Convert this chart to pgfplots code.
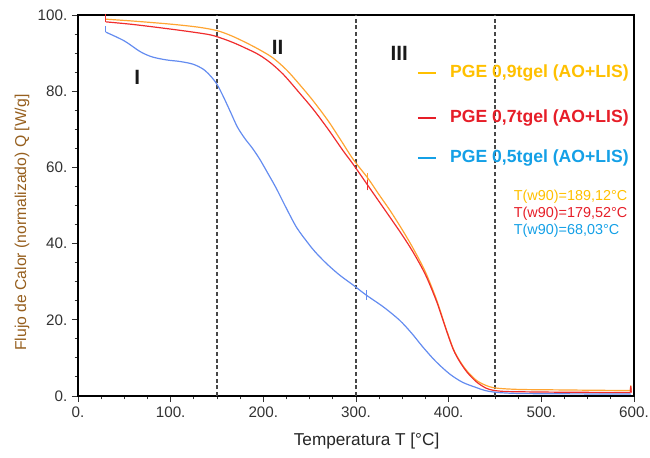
\documentclass[border=0pt]{standalone}
\usepackage{pgfplots}
\pgfplotsset{compat=1.18}
\usepackage{fontspec}
\setmainfont{Liberation Sans}
\definecolor{corange}{RGB}{255,165,50}
\definecolor{cred}{RGB}{240,45,45}
\definecolor{cblue}{RGB}{100,140,240}
\definecolor{lgold}{RGB}{255,192,0}
\definecolor{lred}{RGB}{230,30,40}
\definecolor{lblue}{RGB}{20,160,230}
\definecolor{tickgray}{RGB}{50,50,50}
\definecolor{ylab}{RGB}{150,95,30}
\definecolor{dashgray}{RGB}{70,70,70}
\begin{document}
\begin{tikzpicture}
\begin{axis}[
  scale only axis, width=417pt, height=285.75pt,
  xmin=0, xmax=600, ymin=0, ymax=100,
  xtick={0,100,...,600}, xticklabels={0.,100.,200.,300.,400.,500.,600.},
  ytick={0,20,...,100}, yticklabels={0.,20.,40.,60.,80.,100.},
  minor x tick num=3, minor y tick num=3,
  tick align=outside, xtick pos=bottom, ytick pos=left,
  major tick length=4.5pt, minor tick length=2.5pt,
  tick style={tickgray, line width=0.7pt},
  ticklabel style={font=\fontsize{11.4}{13}\selectfont, text=tickgray},
  /pgf/number format/assume math mode=true,
  axis line style={black, line width=0.8pt},
  xlabel={Temperatura T [°C]},
  ylabel={Flujo de Calor (normalizado) Q [W/g]},
  xlabel style={font=\fontsize{12.9}{15}\selectfont, text=black!85, at={(axis description cs:0.519,-0.118)}, anchor=center},
  ylabel style={font=\fontsize{11.8}{14}\selectfont, text=ylab, at={(axis description cs:-0.1007,0.455)}, anchor=center},
  clip=false,
]
% vertical dashed dividers
\addplot[dashgray, line width=0.8pt, dash pattern=on 3pt off 2pt] coordinates {(150,0) (150,100)};
\addplot[dashgray, line width=0.8pt, dash pattern=on 3pt off 2pt] coordinates {(300,0) (300,100)};
\addplot[dashgray, line width=0.8pt, dash pattern=on 3pt off 2pt] coordinates {(450,0) (450,100)};

% PGE 0,9tgel
\addplot[corange, line width=0.9pt] coordinates {(30,100.2) (30,98.9)};
\addplot[corange, line width=0.9pt, smooth] coordinates {
(30,98.9) (60,98.4) (100,97.6) (130,96.8) (150,95.9) (165,94.6) (180,92.9) (195,91.0) (210,88.8) (225,85.6) (240,81.5) (254,77.4) (270,72.2) (284,67) (297,62.1) (313,57.1) (325,52.8) (337,48.6) (350,43.6) (362,38.6) (375,32.5) (387,25.2) (397,17.8) (405,12.4) (412,9.2) (420,6.5) (430,4.1) (440,2.8) (448,2.2) (460,1.9) (480,1.7) (520,1.6) (560,1.5) (596,1.45)};
\addplot[corange, line width=0.9pt] coordinates {(596,1.45) (596.5,2.8) (597,1.4)};
\addplot[corange, line width=0.7pt] coordinates {(312,55.8) (312,58.6)};
% PGE 0,7tgel
\addplot[cred, line width=0.9pt] coordinates {(30,100.3) (30,98.2)};
\addplot[cred, line width=0.9pt, smooth] coordinates {
(30,98.2) (60,97.5) (100,96.3) (130,95.3) (146,94.6) (165,93.0) (180,91.4) (195,89.6) (208,87.4) (222,84.3) (239.5,79.4) (254,75.2) (270,70) (286,64.4) (297,60.8) (313,55.2) (325,51.0) (337,46.8) (350,42.2) (362,37.6) (375,31.8) (387,24.8) (397,17.6) (405,12.2) (412,9.0) (420,6.2) (430,3.7) (440,2.1) (448,1.5) (460,1.2) (480,1.1) (520,1.0) (560,0.95) (596,0.9)};
\addplot[cred, line width=0.9pt] coordinates {(596,0.9) (596.5,2.6) (597,0.9)};
\addplot[cred, line width=0.7pt] coordinates {(312,54.0) (312,56.8)};
% PGE 0,5tgel
\addplot[cblue, line width=0.9pt] coordinates {(30,97) (30,95.5)};
\addplot[cblue, line width=0.9pt, smooth] coordinates {
(30,95.5) (50,93.2) (67,90.4) (80,89) (95.7,88.2) (110,87.8) (124,87.1) (135,85.8) (143,84.0) (150,81.8) (157,78.5) (165,74.3) (172,70.6) (180,67.6) (188,65.1) (196,62.2) (205,58.4) (214,54.5) (225,49.2) (236,44.2) (248,40.2) (256,37.8) (268,34.8) (282,31.8) (297,29.1) (311,26.5) (330,23.3) (347,19.9) (360,16.5) (372,12.9) (386,9.1) (401,5.8) (415,3.6) (430,2.2) (440,1.4) (452,0.95) (470,0.7) (500,0.6) (550,0.55) (597,0.5)};
\addplot[cblue, line width=0.7pt] coordinates {(311,25.2) (311,27.8)};

% legend
\draw[lgold, line width=1.3pt] (axis cs:366.8,84.8) -- (axis cs:386.2,84.8);
\node[anchor=west, inner sep=0pt, font=\bfseries\fontsize{13.2}{15}\selectfont, text=lgold] at (axis cs:401.3,84.8) {PGE 0,9tgel (AO+LIS)};
\draw[lred, line width=1.3pt] (axis cs:366.8,73.0) -- (axis cs:386.2,73.0);
\node[anchor=west, inner sep=0pt, font=\bfseries\fontsize{13.2}{15}\selectfont, text=lred] at (axis cs:401.3,73.0) {PGE 0,7tgel (AO+LIS)};
\draw[lblue, line width=1.3pt] (axis cs:366.8,62.5) -- (axis cs:386.2,62.5);
\node[anchor=west, inner sep=0pt, font=\bfseries\fontsize{13.2}{15}\selectfont, text=lblue] at (axis cs:401.3,62.5) {PGE 0,5tgel (AO+LIS)};

\node[anchor=north west, align=left, inner sep=0pt, font=\fontsize{10.8}{12.75}\selectfont] at (axis cs:470,54.1)
  {\textcolor{lgold}{T(w90)=189,12°C}\\\textcolor{lred}{T(w90)=179,52°C}\\\textcolor{lblue}{T(w90)=68,03°C}};

\node[font=\bfseries\fontsize{15.5}{17}\selectfont, text=black!90] at (axis cs:64,83.5) {I};
\node[font=\bfseries\fontsize{15.5}{17}\selectfont, text=black!90] at (axis cs:215.4,91.5) {II};
\node[font=\bfseries\fontsize{15.5}{17}\selectfont, text=black!90] at (axis cs:346.6,90.0) {III};

\coordinate (bl) at (rel axis cs:0,0);
\coordinate (tr) at (rel axis cs:1,1);
\end{axis}
\pgfresetboundingbox
\path[use as bounding box] ([shift={(-58.5pt,-45.75pt)}]bl) rectangle ([shift={(12pt,11.25pt)}]tr);
\end{tikzpicture}
\end{document}
